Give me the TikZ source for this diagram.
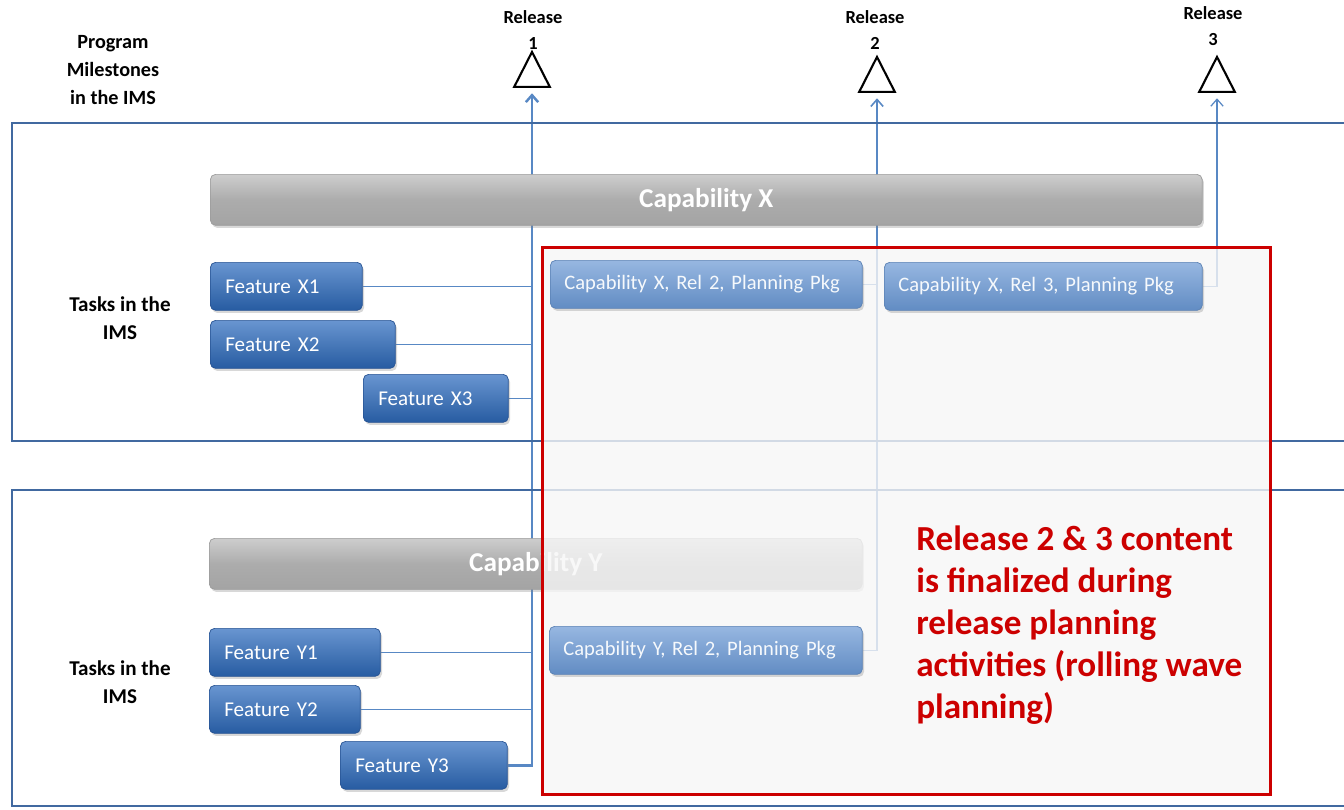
\documentclass[tikz,border=0pt]{standalone}
\usepackage{fontspec}
\setmainfont{Carlito}
\usepackage{tikz}
\usetikzlibrary{shapes.geometric, arrows.meta, positioning, backgrounds, shadows}
\definecolor{panelblue}{RGB}{65, 105, 160}
\definecolor{linkblue}{RGB}{88, 136, 196}
\definecolor{featblue}{RGB}{46, 108, 190}
\definecolor{featedge}{RGB}{38, 82, 146}
\definecolor{pkgblue}{RGB}{106, 152, 212}
\definecolor{barcolor}{RGB}{172, 172, 172}
\definecolor{notered}{RGB}{204, 0, 0}

\begin{document}
\begin{tikzpicture}[
    x=0.02cm, y=-0.02cm,
    panel/.style={draw=panelblue, line width=1.4pt},
    bar/.style={draw=barcolor!90!black, top color=barcolor!60!white, bottom color=barcolor!95!black, middle color=barcolor, rounded corners=3pt, minimum height=1.02cm, text=white, font=\fontsize{15.5}{18}\selectfont\bfseries, drop shadow={opacity=0.3, shadow xshift=1pt, shadow yshift=-1.5pt}},
    feature/.style={draw=featedge, top color=featblue!72!white, bottom color=featblue!85!black, rounded corners=3pt, minimum height=0.96cm, inner xsep=0.3cm, align=left, text=white, font=\fontsize{12}{14}\selectfont, drop shadow={opacity=0.3, shadow xshift=1pt, shadow yshift=-1.5pt}},
    package/.style={feature, inner xsep=0.28cm, draw=pkgblue!85!black, top color=pkgblue!70!white, bottom color=pkgblue!92!black, text=white!94!pkgblue, font=\fontsize{11.7}{14}\selectfont},
    milestone/.style={draw, line width=1.2pt, isosceles triangle, isosceles triangle apex angle=54, shape border rotate=90, inner sep=0pt, minimum width=0.7cm, minimum height=0.7cm},
    label/.style={align=center, inner sep=0pt, font=\fontsize{12}{16}\selectfont\bfseries},
    link/.style={draw=linkblue, line width=0.9pt},
    trunk/.style={link, -{Straight Barb[length=4pt, width=7pt]}, shorten >=3pt},
]
    \useasboundingbox (0,0) rectangle (1344,809);

    % Panels
    \draw[panel] (12,123) rectangle (1350,441);
    \draw[panel] (12,490) rectangle (1350,806);

    % Milestones
    \node[label, font=\fontsize{10.5}{15}\selectfont\bfseries, anchor=north] (rel1) at (533,10) {Release\\1};
    \node[label, font=\fontsize{10.5}{15}\selectfont\bfseries, anchor=north] (rel2) at (875,10) {Release\\2};
    \node[label, font=\fontsize{10.5}{15}\selectfont\bfseries, anchor=north] (rel3) at (1213,6) {Release\\3};
    \node[milestone] (ms1) at (532,76) {};
    \node[milestone] (ms2) at (877,81) {};
    \node[milestone] (ms3) at (1217,81) {};
    \node[label, font=\fontsize{11.5}{16}\selectfont\bfseries, anchor=north] (progms) at (113,35) {Program\\Milestones\\in the IMS};

    % Capability bars
    \node[bar, minimum width=19.84cm, anchor=north west] (capx) at (210,174) {Capability X};
    \node[bar, minimum width=13.06cm, anchor=north west] (capy) at (209,538) {Capability Y};

    % Rolling wave box
    \node[draw=notered, line width=1.7pt, fill=black!3, fill opacity=0.8, minimum width=14.56cm, minimum height=10.94cm, anchor=north west] (wave) at (541,246) {};

    % Tasks
    \node[label, anchor=north] (tasksx) at (120,296) {Tasks in the\\IMS};
    \node[label, anchor=north] (tasksy) at (120,660) {Tasks in the\\IMS};

    \node[feature, text width=2.44cm, anchor=north west] (fx1) at (210,262) {Feature X1};
    \node[feature, text width=3.10cm, anchor=north west] (fx2) at (210,320) {Feature X2};
    \node[feature, text width=2.30cm, anchor=north west] (fx3) at (363,374) {Feature X3};
    \node[feature, text width=2.82cm, anchor=north west] (fy1) at (209,628) {Feature Y1};
    \node[feature, text width=2.42cm, anchor=north west] (fy2) at (209,685) {Feature Y2};
    \node[feature, text width=2.74cm, anchor=north west] (fy3) at (340,741) {Feature Y3};

    % Planning packages
    \node[package, text width=5.68cm, anchor=north west] (pkgx2) at (550,260) {Capability X, Rel 2, Planning Pkg};
    \node[package, text width=5.80cm, anchor=north west] (pkgx3) at (884,262) {Capability X, Rel 3, Planning Pkg};
    \node[package, text width=5.70cm, anchor=north west] (pkgy2) at (549,626) {Capability Y, Rel 2, Planning Pkg};

    \node[align=left, anchor=north west, inner sep=0pt, text=notered, font=\fontsize{20}{24}\selectfont\bfseries] (note) at (916,525) {Release 2 \& 3 content\\is finalized during\\release planning\\activities (rolling wave\\planning)};

    % Connectors
    \begin{scope}[on background layer]
        \fill[white] (0,0) rectangle (1344,809);
        \draw[trunk, line width=1.4pt] (fy3.east) -| (ms1.lower side);
        \foreach \f in {fx1, fx2, fx3, fy1, fy2}
            \draw[link] (\f.east) -- (\f.east -| ms1.lower side);
        \draw[trunk] (pkgy2.east) -| (ms2.lower side);
        \draw[link] (pkgx2.east) -- (pkgx2.east -| ms2.lower side);
        \draw[trunk, line width=0.7pt] (pkgx3.east) -| (ms3.lower side);
    \end{scope}
\end{tikzpicture}
\end{document}
